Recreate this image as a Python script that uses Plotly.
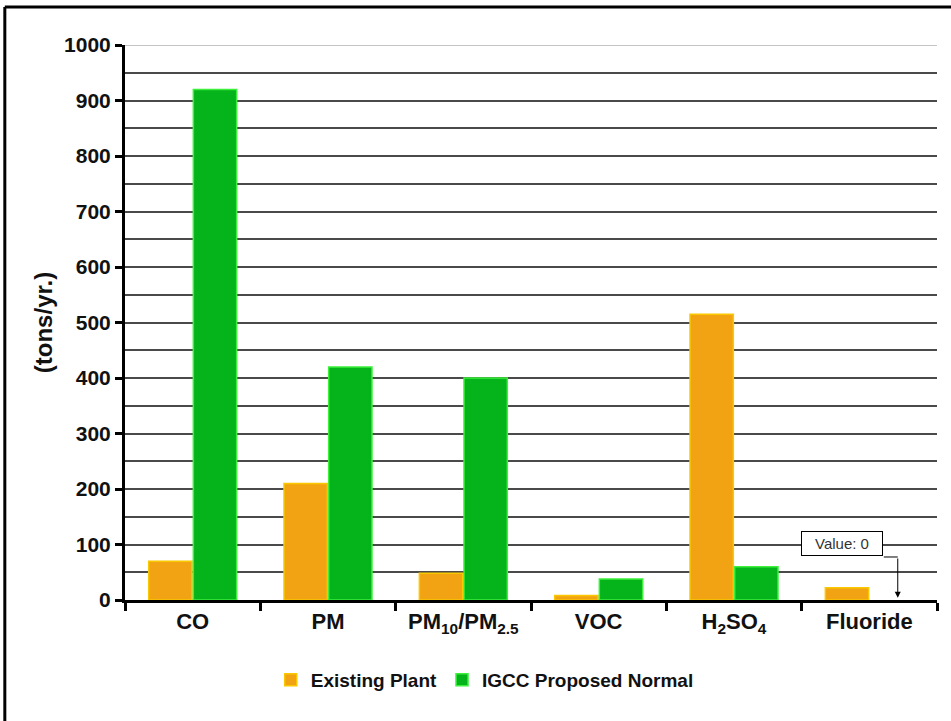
import plotly.graph_objects as go

categories = ["CO", "PM", "PM10/PM2.5", "VOC", "H2SO4", "Fluoride"]
tick_labels = ["CO", "PM", "PM<sub>10</sub>/PM<sub>2.5</sub>", "VOC", "H<sub>2</sub>SO<sub>4</sub>", "Fluoride"]
existing_plant = [70, 210, 48, 8, 515, 22]
igcc_proposed = [920, 420, 400, 38, 60, 0]
y_ticks = [0, 100, 200, 300, 400, 500, 600, 700, 800, 900, 1000]

FONT = "Liberation Sans, Arial, sans-serif"

fig = go.Figure()
fig.add_trace(go.Bar(
    x=categories, y=existing_plant, name="<b>Existing Plant</b>",
    marker=dict(color="#F2A313", line=dict(color="#F9C800", width=1.5)),
))
fig.add_trace(go.Bar(
    x=categories, y=igcc_proposed, name="<b>IGCC Proposed Normal</b>",
    marker=dict(color="#05B31A",
                line=dict(color="#3CF03C", width=[1.5 if v > 0 else 0 for v in igcc_proposed])),
))

fig.update_layout(
    width=951, height=721,
    margin=dict(l=125, r=14, t=45, b=121),
    paper_bgcolor="white", plot_bgcolor="white",
    barmode="group", bargap=0.34, bargroupgap=0.03,
    font=dict(family=FONT, color="black"),
    showlegend=True,
    legend=dict(orientation="h", x=0.443, xanchor="center", y=-0.144, yanchor="middle",
                font=dict(size=19, family=FONT, color="#111"), itemwidth=30, traceorder="normal"),
)
fig.update_xaxes(
    type="category", tickvals=categories, ticktext=["<b>%s</b>" % t for t in tick_labels],
    tickfont=dict(size=22, family=FONT, color="#111"), showline=True, linecolor="black", linewidth=3,
    ticks="outside", tickson="boundaries", ticklen=8, tickwidth=3, tickcolor="black",
    showgrid=False, range=[-0.5, 5.5],
)
fig.update_yaxes(
    range=[0, 1000], tickvals=y_ticks, ticktext=["<b>%d</b>" % v for v in y_ticks],
    tickfont=dict(size=21, family=FONT, color="#111"), showline=True, linecolor="black", linewidth=3,
    ticks="outside", ticklen=7, tickwidth=3, tickcolor="black",
    showgrid=True, gridcolor="#4a4a4a", gridwidth=1.5,
    minor=dict(dtick=50, showgrid=True, gridcolor="#4a4a4a", gridwidth=1.5, ticks=""),
    title=dict(text="<b>(tons/yr.)</b>", font=dict(size=24, family=FONT, color="#111"), standoff=5),
    zeroline=False,
)

# light top gridline
fig.add_shape(type="line", xref="paper", yref="y", x0=0, x1=1, y0=1000, y1=1000,
              line=dict(color="#c4c4c4", width=2), layer="above")
# outer frame (top and left borders)
fig.add_shape(type="line", xref="paper", yref="paper", x0=-0.148, x1=1.03, y0=1.0685, y1=1.0685,
              line=dict(color="black", width=3))
fig.add_shape(type="line", xref="paper", yref="paper", x0=-0.148, x1=-0.148, y0=1.0685, y1=-0.3,
              line=dict(color="black", width=3))

# "Value: 0" callout
fig.add_annotation(x=4.80, y=102.7, xref="x", yref="y", text="Value: 0", showarrow=False,
                   font=dict(size=15, family=FONT, color="#333"), bgcolor="white",
                   bordercolor="black", borderwidth=1, borderpad=3, width=74)
fig.add_shape(type="line", xref="x", yref="y", x0=5.107, x1=5.21, y0=77.5, y1=77.5,
              line=dict(color="black", width=1))
fig.add_annotation(x=5.21, y=4, ax=5.21, ay=77.5, xref="x", yref="y", axref="x", ayref="y",
                   text="", showarrow=True, arrowhead=2, arrowsize=1.2, arrowwidth=1,
                   arrowcolor="black")

fig.write_html("out.html")
